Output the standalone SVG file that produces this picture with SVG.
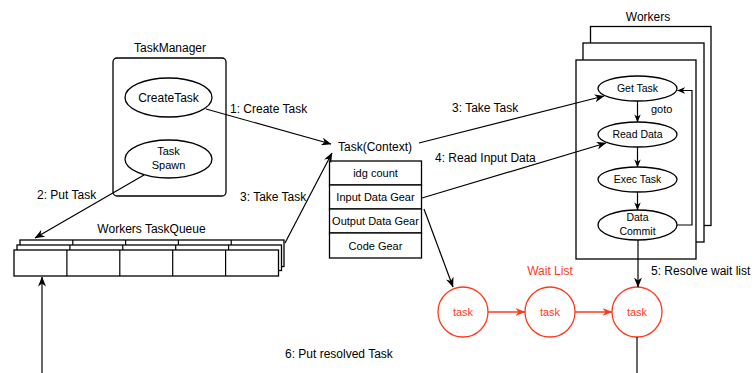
<svg xmlns="http://www.w3.org/2000/svg" width="755" height="373" viewBox="0 0 755 373">
  <style>
    text { font-family: "Liberation Sans", Arial, sans-serif; fill: #000; }
    .t12 { font-size: 12px; }
    .t11 { font-size: 11px; }
    .t105 { font-size: 10.5px; }
    .mid { text-anchor: middle; }
    .box { fill: #fff; stroke: #000; stroke-width: 1.3; }
    .line { fill: none; stroke: #000; stroke-width: 1.2; }
    .red { fill: none; stroke: #ff3a1c; stroke-width: 1.3; }
    .redtxt { fill: #ff3a1c; }
  </style>
  <defs>
    <marker id="arr" viewBox="0 0 10 8" refX="9.5" refY="4" markerWidth="10" markerHeight="8" markerUnits="userSpaceOnUse" orient="auto">
      <path d="M0,0 L10,4 L0,8 L3,4 z" fill="#000"/>
    </marker>
    <marker id="arrSmall" viewBox="0 0 10 8" refX="9.5" refY="4" markerWidth="8" markerHeight="7" markerUnits="userSpaceOnUse" orient="auto">
      <path d="M0,0 L10,4 L0,8 L3,4 z" fill="#000"/>
    </marker>
    <marker id="arrRed" viewBox="0 0 10 8" refX="9.5" refY="4" markerWidth="10" markerHeight="8" markerUnits="userSpaceOnUse" orient="auto">
      <path d="M0,0 L10,4 L0,8 L3,4 z" fill="#ff3a1c"/>
    </marker>
  </defs>

  <!-- TaskManager -->
  <g id="taskmanager">
    <text class="t12 mid" x="170" y="52">TaskManager</text>
    <rect class="box" x="113" y="58" width="113" height="138" rx="4"/>
    <g id="createtask">
      <ellipse class="box" cx="168.5" cy="97.5" rx="43.5" ry="19.5"/>
      <text class="t12 mid" x="168.5" y="101.5">CreateTask</text>
    </g>
    <g id="taskspawn">
      <ellipse class="box" cx="168.5" cy="159" rx="43.5" ry="19"/>
      <text class="t11 mid" x="168.5" y="155">Task</text>
      <text class="t11 mid" x="168.5" y="169">Spawn</text>
    </g>
  </g>

  <!-- Workers TaskQueue (three stacked rows of five cells) -->
  <g id="taskqueue">
    <text class="t12 mid" x="151.5" y="233">Workers TaskQueue</text>
    <g>
      <rect class="box" x="20" y="240" width="264" height="26.5"/>
      <path class="line" d="M72.8,240 V266.5 M125.6,240 V266.5 M178.4,240 V266.5 M231.2,240 V266.5"/>
    </g>
    <g>
      <rect class="box" x="17" y="245" width="264.5" height="25.5"/>
      <path class="line" d="M69.9,245 V270.5 M122.8,245 V270.5 M175.7,245 V270.5 M228.6,245 V270.5"/>
    </g>
    <g>
      <rect class="box" x="14" y="250" width="264.5" height="26"/>
      <path class="line" d="M66.9,250 V276 M119.8,250 V276 M172.7,250 V276 M225.6,250 V276"/>
    </g>
  </g>

  <!-- Task(Context) -->
  <g id="taskcontext">
    <text class="t12 mid" x="375" y="151">Task(Context)</text>
    <rect class="box" x="329.5" y="161" width="92" height="24"/>
    <text class="t11 mid" x="375.5" y="177">idg count</text>
    <rect class="box" x="329.5" y="185" width="92" height="24"/>
    <text class="t11 mid" x="375.5" y="201">Input Data Gear</text>
    <rect class="box" x="329.5" y="209" width="92" height="24"/>
    <text class="t11 mid" x="375.5" y="225">Output Data Gear</text>
    <rect class="box" x="329.5" y="233" width="92" height="25"/>
    <text class="t11 mid" x="375.5" y="249.5">Code Gear</text>
  </g>

  <!-- Workers -->
  <g id="workers">
    <text class="t12 mid" x="648" y="21">Workers</text>
    <rect class="box" x="590.5" y="26.5" width="120.5" height="199"/>
    <rect class="box" x="583" y="43" width="121" height="199"/>
    <rect class="box" x="576" y="60" width="120" height="199"/>
    <g id="gettask">
      <ellipse class="box" cx="637.5" cy="88.5" rx="39.5" ry="12.5"/>
      <text class="t105 mid" x="637.5" y="92.3">Get Task</text>
    </g>
    <g id="readdata">
      <ellipse class="box" cx="637.5" cy="134.5" rx="39.5" ry="12.5"/>
      <text class="t105 mid" x="637.5" y="138.3">Read Data</text>
    </g>
    <g id="exectask">
      <ellipse class="box" cx="637.5" cy="179.5" rx="39.5" ry="12.5"/>
      <text class="t105 mid" x="637.5" y="183.3">Exec Task</text>
    </g>
    <g id="datacommit">
      <ellipse class="box" cx="637.5" cy="225" rx="39.5" ry="15"/>
      <text class="t105 mid" x="637.5" y="221">Data</text>
      <text class="t105 mid" x="637.5" y="235">Commit</text>
    </g>
  </g>

  <!-- Wait list -->
  <g id="waitlist">
    <text class="t12 mid redtxt" x="550" y="275">Wait List</text>
    <g id="wait1">
      <circle class="red" cx="463" cy="312" r="25"/>
      <text class="t11 mid redtxt" x="463" y="316">task</text>
    </g>
    <g id="wait2">
      <circle class="red" cx="550" cy="312" r="25"/>
      <text class="t11 mid redtxt" x="550" y="316">task</text>
    </g>
    <g id="wait3">
      <circle class="red" cx="637" cy="312" r="25"/>
      <text class="t11 mid redtxt" x="637" y="316">task</text>
    </g>
  </g>

  <!-- Connectors -->
  <g id="connectors">
    <path class="line" d="M206,109 L331,144" marker-end="url(#arr)"/>
    <path class="line" d="M144,175 L35,238" marker-end="url(#arr)"/>
    <path class="line" d="M285,243 L332,153" marker-end="url(#arr)"/>
    <path class="line" d="M419,143 L604,96" marker-end="url(#arr)"/>
    <path class="line" d="M422,198 L606,143" marker-end="url(#arr)"/>
    <path class="line" d="M424,209 L453,287" marker-end="url(#arr)"/>
    <path class="line" d="M637.5,101 L637.5,122" marker-end="url(#arrSmall)"/>
    <path class="line" d="M637.5,147 L637.5,167" marker-end="url(#arrSmall)"/>
    <path class="line" d="M637.5,192 L637.5,210" marker-end="url(#arrSmall)"/>
    <path class="line" d="M677,225 H692 V90.5 H677.5" marker-end="url(#arrSmall)"/>
    <path class="line" d="M638,240 L638,287" marker-end="url(#arr)"/>
    <path class="red" d="M488,312 L525,312" marker-end="url(#arrRed)"/>
    <path class="red" d="M575,312 L612,312" marker-end="url(#arrRed)"/>
    <path class="line" d="M637,337 L637,373"/>
    <path class="line" d="M42,373 L42,277" marker-end="url(#arr)"/>

    <text class="t12" x="230" y="113">1: Create Task</text>
    <text class="t12" x="37" y="199">2: Put Task</text>
    <text class="t12" x="240" y="201">3: Take Task</text>
    <text class="t12" x="452" y="112">3: Take Task</text>
    <text class="t12" x="435" y="162">4: Read Input Data</text>
    <text class="t12" x="651" y="275">5: Resolve wait list</text>
    <text class="t12" x="285" y="358">6: Put resolved Task</text>
    <text class="t11" x="651" y="113">goto</text>
  </g>
</svg>
